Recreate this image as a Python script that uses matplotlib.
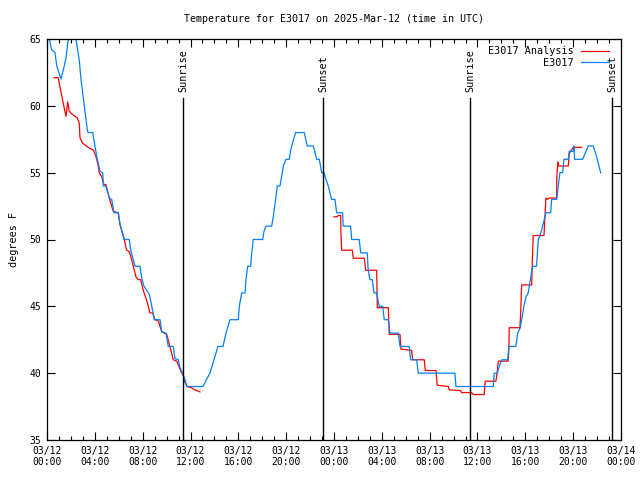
import numpy as np
from matplotlib import pyplot as plt

# hours since 2025-03-12 00:00 UTC
obs_hours = [0.19, 0.39, 0.67, 0.81, 1.17, 1.45, 1.59, 1.78, 2.10, 2.42, 2.70, 2.84, 3.12, 3.37, 3.43,
             3.82, 4.01, 4.16, 4.43, 4.66, 4.71, 4.93, 5.21, 5.41, 5.60, 5.96, 6.10, 6.44, 6.88, 7.00,
             7.36, 7.78, 7.92, 8.11, 8.55, 8.70, 8.97, 9.45, 9.59, 9.95, 10.14, 10.56, 10.70, 10.98,
             11.12, 11.35, 11.54, 11.68, 12.79, 13.04, 13.38, 13.63, 13.96, 14.30, 14.72, 14.97, 15.30,
             16.00, 16.08, 16.20, 16.28, 16.56, 16.64, 16.78, 17.03, 17.12, 17.25, 18.04, 18.14, 18.31,
             18.79, 18.92, 19.12, 19.26, 19.48, 19.62, 19.76, 19.98, 20.26, 20.38, 20.59, 20.79, 21.51,
             21.66, 21.76, 22.27, 22.41, 22.55, 22.77, 22.83, 22.97, 23.16, 23.33, 23.52, 23.66, 23.80,
             24.08, 24.22, 24.72, 24.77, 25.39, 25.48, 26.11, 26.23, 26.78, 26.86, 27.00, 27.20, 27.34,
             27.57, 27.78, 28.07, 28.20, 28.54, 28.68, 29.37, 29.52, 30.29, 30.41, 30.91, 31.05, 34.11,
             34.20, 37.32, 37.40, 37.65, 37.82, 38.02, 38.52, 38.63, 39.21, 39.36, 39.57, 39.69, 39.88,
             40.05, 40.24, 40.38, 40.61, 40.94, 41.08, 41.22, 41.36, 41.72, 42.12, 42.20, 42.62, 42.89,
             43.12, 43.23, 43.59, 43.67, 44.01, 44.06, 44.12, 44.79, 45.26, 45.68, 45.96, 46.30]
obs_temp = [65, 64.2, 64, 63, 62, 63, 63.6, 65, 66.5, 65, 63.4, 62, 60, 58.2, 58,
            58, 57, 56.2, 55.1, 55, 54, 54, 53.1, 53, 52, 52, 51.2, 50, 50, 49.2,
            48, 48, 47.1, 46.5, 45.9, 45.3, 44, 44, 43.1, 43, 42, 42, 41.1, 41,
            40.4, 40, 39.5, 39, 39, 39, 39.6, 40, 41, 42, 42, 43, 44,
            44, 45, 45.6, 46, 46, 47, 48, 48, 49, 50, 50, 50.6, 51,
            51, 51.7, 53, 54, 54, 54.7, 55.5, 56, 56, 56.7, 57.4, 58, 58,
            57.4, 57, 57, 56.5, 56, 56, 55.7, 55, 55, 54.5, 54, 53.5, 53,
            53, 52, 52, 51, 51, 50, 50, 49, 49, 47.7, 47, 47, 46,
            46, 45, 45, 44, 44, 43, 43, 42, 42, 41, 41, 40, 40,
            39, 39, 40, 40, 40.5, 41, 41, 42, 42, 43, 43.4, 44, 45,
            45.7, 46, 46.8, 48, 48, 50, 50.3, 50.7, 52, 52, 53, 53, 55,
            55, 56, 56, 56.6, 56.6, 57, 56, 56, 57, 57, 56.2, 55]

ana1_hours = [0.59, 0.94, 1.09, 1.31, 1.59, 1.73, 1.86, 2.07, 2.53, 2.70, 2.76, 2.98, 3.60, 3.87, 4.10,
              4.29, 4.37, 4.57, 4.77, 4.93, 5.21, 5.54, 5.96, 6.10, 6.44, 6.66, 6.88, 7.08, 7.44, 7.63,
              7.83, 8.05, 8.42, 8.61, 8.84, 9.03, 9.31, 9.59, 10.01, 10.28, 10.56, 10.84, 11.12, 11.40,
              11.54, 11.73, 12.10, 12.37, 12.79]
ana1_temp = [62.1, 62.1, 61.4, 60.4, 59.2, 60.3, 59.6, 59.4, 59.1, 58.7, 57.6, 57.2, 56.8, 56.7, 56.2,
             55.5, 55, 54.7, 54.1, 54.1, 53.1, 52.1, 52, 51.1, 50.1, 49.2, 49.1, 48.5, 47.2, 47,
             47, 46.2, 45.2, 44.5, 44.5, 44, 43.9, 43.1, 42.9, 42, 41, 40.9, 40.3, 39.8,
             39.3, 39, 38.9, 38.75, 38.6]

ana2_hours = [24.00, 24.27, 24.36, 24.56, 24.58, 24.64, 25.53, 25.61, 26.53, 26.65, 27.57, 27.62, 28.54,
              28.62, 29.52, 29.60, 30.49, 30.58, 31.55, 31.63, 32.53, 32.63, 33.55, 33.64, 34.59, 34.67,
              35.51, 35.64, 36.56, 36.64, 37.54, 37.65, 37.74, 38.57, 38.63, 38.65, 39.55, 39.63, 39.69,
              40.53, 40.58, 40.66, 41.56, 41.64, 41.72, 41.83, 42.00, 42.62, 42.63, 42.71, 42.76, 43.59,
              43.67, 44.01, 44.71]
ana2_temp = [51.7, 51.7, 51.8, 51.8, 50.5, 49.2, 49.2, 48.6, 48.6, 47.7, 47.7, 44.9, 44.9,
             42.9, 42.9, 41.8, 41.7, 41.0, 41, 40.2, 40.2, 39.1, 39.0, 38.75, 38.7, 38.55,
             38.55, 38.4, 38.4, 39.4, 39.4, 40.1, 40.9, 40.9, 42.1, 43.4, 43.4, 45.0, 46.6,
             46.6, 48.3, 50.3, 50.3, 51.7, 53.1, 53.0, 53.1, 53.1, 54.6, 55.8, 55.5, 55.5,
             56.45, 56.9, 56.9]

sun_hours = [11.37, 23.08, 35.37, 47.24]
sun_names = ["Sunrise", "Sunset", "Sunrise", "Sunset"]

tick_hours = list(range(0, 49, 4))
tick_labels = ["03/12\n00:00", "03/12\n04:00", "03/12\n08:00", "03/12\n12:00", "03/12\n16:00",
               "03/12\n20:00", "03/13\n00:00", "03/13\n04:00", "03/13\n08:00", "03/13\n12:00",
               "03/13\n16:00", "03/13\n20:00", "03/14\n00:00"]

plt.rcParams['font.family'] = ['DejaVu Sans Mono']
plt.rcParams['font.size'] = 7.3

fig = plt.figure(figsize=(6.4, 4.8), dpi=100)
ax = fig.add_axes([47 / 640, 40 / 480, 574 / 640, 401 / 480])

ax.plot(ana1_hours, ana1_temp, color='#ff0000', lw=0.9, label='E3017 Analysis')
ax.plot(ana2_hours, ana2_temp, color='#ff0000', lw=0.9)
ax.plot(obs_hours, obs_temp, color='#0080ff', lw=0.9, label='E3017')

for h, name in zip(sun_hours, sun_names):
    ax.plot([h, h], [35, 60.6], color='black', lw=1.0)
    ax.text(h, 61.0, name, rotation=90, ha='center', va='bottom')

ax.set_xlim(0, 48)
ax.set_ylim(35, 65)
ax.set_xticks(tick_hours)
ax.set_xticklabels(tick_labels)
ax.set_xticks(np.arange(0, 49, 1), minor=True)
ax.set_yticks(np.arange(35, 66, 5))
ax.tick_params(which='both', direction='in', top=True, right=True, width=0.8, labelsize=7)
ax.tick_params(which='major', length=6, pad=4)
ax.tick_params(which='minor', length=3)
for s in ax.spines.values():
    s.set_linewidth(0.9)

ax.set_ylabel("degrees F", labelpad=8)
ax.set_title("Temperature for E3017 on 2025-Mar-12 (time in UTC)", fontsize=7.2, pad=12)
ax.legend(loc='upper right', bbox_to_anchor=(0.992, 1.0), frameon=False, markerfirst=False,
          handlelength=2.8, borderaxespad=0.3, labelspacing=0.15, handletextpad=0.7)

plt.savefig("out.png", dpi=100)
